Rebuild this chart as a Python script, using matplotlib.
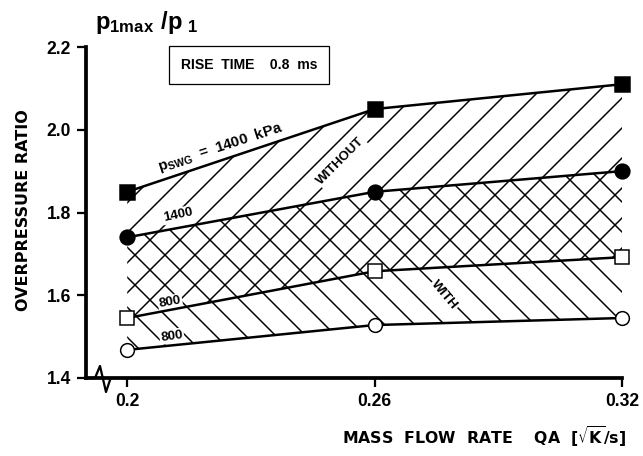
import numpy as np
import matplotlib
matplotlib.use('Agg')
import matplotlib.pyplot as plt

# 数据
qa = [0.20, 0.26, 0.32]
without_1400 = [1.85, 2.05, 2.11]   # 实心方块
with_1400 = [1.74, 1.85, 1.90]      # 实心圆
without_800 = [1.545, 1.658, 1.692]  # 空心方块
with_800 = [1.468, 1.528, 1.545]     # 空心圆

x_ticks = [0.2, 0.26, 0.32]
x_tick_labels = ['0.2', '0.26', '0.32']
y_ticks = [1.4, 1.6, 1.8, 2.0, 2.2]
y_tick_labels = ['1.4', '1.6', '1.8', '2.0', '2.2']

DPI = 180
plt.rcParams['hatch.linewidth'] = 0.6
plt.rcParams['font.family'] = ['Liberation Sans', 'DejaVu Sans']
label_font = ['DejaVu Sans']

fig = plt.figure(figsize=(643 / DPI, 456 / DPI), dpi=DPI)
ax = fig.add_axes([86 / 643, 1 - 378 / 456, 536 / 643, 331 / 456])

# 阴影区域
ax.fill_between(qa, without_800, without_1400, facecolor='none', edgecolor='black',
                hatch='//', linewidth=0)
ax.fill_between(qa, with_800, with_1400, facecolor='none', edgecolor='black',
                hatch='\\\\', linewidth=0)

# 曲线
lw = 1.0
ms = 5.5
ax.plot(qa, without_1400, color='black', lw=lw, marker='s', ms=ms, mfc='black',
        mec='black', clip_on=False, zorder=5)
ax.plot(qa, with_1400, color='black', lw=lw, marker='o', ms=ms, mfc='black',
        mec='black', clip_on=False, zorder=5)
ax.plot(qa, without_800, color='black', lw=lw, marker='s', ms=ms, mfc='white',
        mec='black', mew=0.6, clip_on=False, zorder=5)
ax.plot(qa, with_800, color='black', lw=lw, marker='o', ms=ms, mfc='white',
        mec='black', mew=0.6, clip_on=False, zorder=5)

ax.set_xlim(0.19, 0.32)
ax.set_ylim(1.4, 2.2)
ax.set_xticks(x_ticks)
ax.set_xticklabels(x_tick_labels)
ax.set_yticks(y_ticks)
ax.set_yticklabels(y_tick_labels)
for s in ['top', 'right']:
    ax.spines[s].set_visible(False)
for s in ['left', 'bottom']:
    ax.spines[s].set_linewidth(1.5)
ax.tick_params(axis='both', direction='out', length=3.5, width=0.9, labelsize=7, pad=2.5)
for lab in ax.get_xticklabels() + ax.get_yticklabels():
    lab.set_fontweight('bold')

# 轴断裂符号
zx = [0.0, 0.0168, 0.0261, 0.0373, 0.0448]
zy = [0.0, 0.0, 0.0363, -0.0423, -0.006]
ax.plot(zx, zy, transform=ax.transAxes, color='black', lw=0.9, clip_on=False, zorder=6)

# 标题与轴标签
fig.text(95 / 643, 1 - 29 / 456, r'$\mathregular{p_{1max}\ /p_{\ 1}}$', fontsize=9.5,
         fontweight='bold', ha='left', va='baseline')
fig.text(24 / 643, 1 - 210 / 456, 'OVERPRESSURE RATIO', rotation=90, fontsize=6.4,
         fontweight='bold', family=label_font, ha='center', va='center')
fig.text(484 / 643, 1 - 437 / 456, r'MASS  FLOW  RATE    QA  [$\mathregular{\sqrt{K}}$/s]',
         fontsize=6.3, fontweight='bold', family=label_font, ha='center', va='center')

# 说明框
ax.text(0.2296, 2.156, 'RISE  TIME    0.8  ms', fontsize=5.6, fontweight='bold',
        ha='center', va='center',
        bbox=dict(boxstyle='square,pad=0.85', facecolor='white', edgecolor='black', lw=0.5))

# 曲线标注
ax.text(0.2226, 1.958, r'$\mathregular{p_{SWG}}$  =  1400  kPa', fontsize=6,
        fontweight='bold', rotation=18, ha='center', va='center', rotation_mode='anchor',
        bbox=dict(facecolor='white', edgecolor='none', pad=0.3))
ax.text(0.2518, 1.924, 'WITHOUT', fontsize=5.3, fontweight='bold', rotation=45,
        ha='center', va='center', rotation_mode='anchor',
        bbox=dict(facecolor='white', edgecolor='none', pad=0.5))
ax.text(0.2123, 1.794, '1400', fontsize=5.4, fontweight='bold', rotation=12,
        ha='center', va='center', rotation_mode='anchor',
        bbox=dict(facecolor='white', edgecolor='none', pad=0.5))
ax.text(0.2104, 1.583, '800', fontsize=5.4, fontweight='bold', rotation=10,
        ha='center', va='center', rotation_mode='anchor',
        bbox=dict(facecolor='white', edgecolor='none', pad=0.5))
ax.text(0.2108, 1.501, '800', fontsize=5.4, fontweight='bold', rotation=8,
        ha='center', va='center', rotation_mode='anchor',
        bbox=dict(facecolor='white', edgecolor='none', pad=0.5))
ax.text(0.2769, 1.600, 'WITH', fontsize=5.3, fontweight='bold', rotation=-50,
        ha='center', va='center', rotation_mode='anchor',
        bbox=dict(facecolor='white', edgecolor='none', pad=0.5))

fig.savefig('out.png', dpi=DPI)
